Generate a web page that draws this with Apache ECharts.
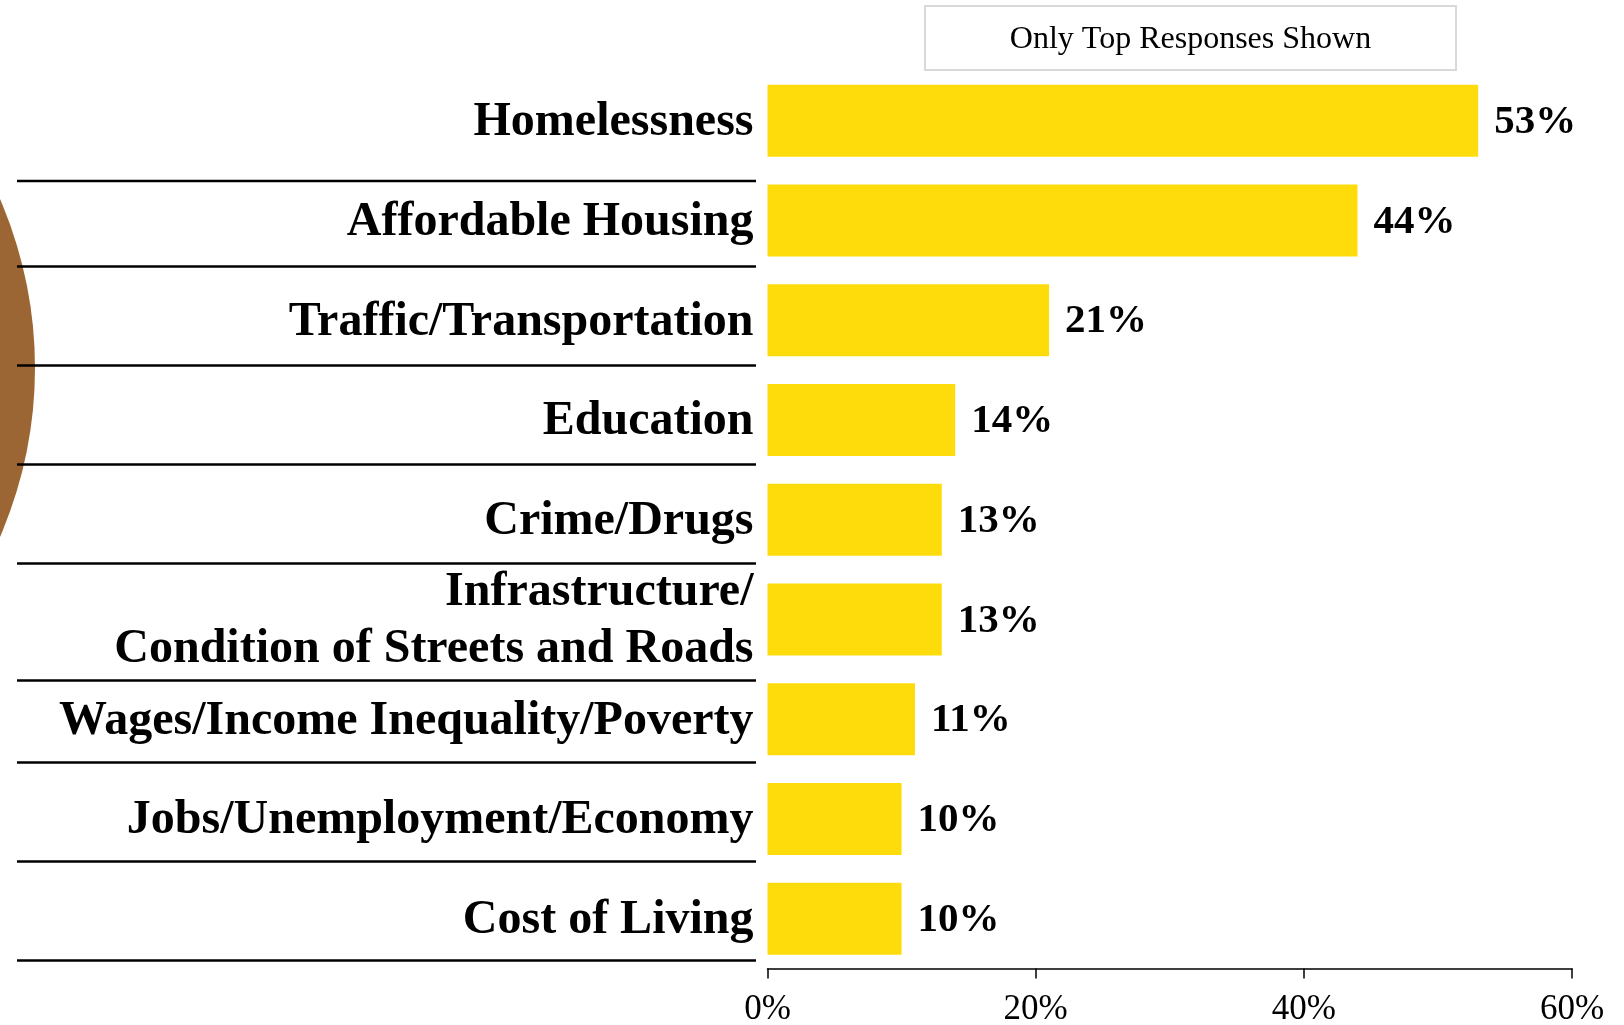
<!DOCTYPE html>
<html>
<head>
<meta charset="utf-8">
<title>Top Responses</title>
<script src="https://cdn.jsdelivr.net/npm/echarts@6/dist/echarts.min.js"></script>
<style>
  html, body { margin: 0; padding: 0; background: #ffffff; }
  #chart { width: 1624px; height: 1025px; }
</style>
</head>
<body>
<div id="chart"></div>
<script>
// Survey issues, top to bottom
const categories = [
  'Homelessness',
  'Affordable Housing',
  'Traffic/Transportation',
  'Education',
  'Crime/Drugs',
  'Infrastructure/\nCondition of Streets and Roads',
  'Wages/Income Inequality/Poverty',
  'Jobs/Unemployment/Economy',
  'Cost of Living'
];
// Share of respondents naming each issue (%)
const shares = [53, 44, 21, 14, 13, 13, 11, 10, 10];
// Axis ticks (%)
const tickValues = [0, 20, 40, 60];
const noteText = 'Only Top Responses Shown';

// Layout constants for the decorative rules between rows
const ruleYs = [181, 266.5, 365.5, 464.5, 563.5, 680.5, 762.5, 861.5, 960.5];
const ruleX0 = 17;
const ruleX1 = 756;

const SERIF = '"Liberation Serif", "Times New Roman", serif';

const chart = echarts.init(document.getElementById('chart'), null, { renderer: 'canvas' });

const graphics = [
  {
    type: 'circle',
    z: 0,
    silent: true,
    shape: { cx: -390, cy: 368, r: 425 },
    style: { fill: '#9C6634' }
  }
];
ruleYs.forEach(function (y) {
  graphics.push({
    type: 'line',
    z: 5,
    silent: true,
    shape: { x1: ruleX0, y1: y, x2: ruleX1, y2: y },
    style: { stroke: '#000000', lineWidth: 2.5 }
  });
});
graphics.push({
  type: 'rect',
  z: 5,
  silent: true,
  shape: { x: 925, y: 6, width: 531, height: 64 },
  style: { fill: '#ffffff', stroke: '#d9d9d9', lineWidth: 2 }
});
graphics.push({
  type: 'text',
  z: 6,
  silent: true,
  x: 1190.5,
  y: 40,
  style: {
    text: noteText,
    fill: '#000000',
    font: '32px ' + SERIF,
    align: 'center',
    verticalAlign: 'middle'
  }
});

chart.setOption({
  animation: false,
  backgroundColor: '#ffffff',
  grid: {
    left: 767.5,
    right: 52,
    top: 71,
    bottom: 56.5,
    containLabel: false,
    outerBoundsMode: 'none'
  },
  xAxis: {
    type: 'value',
    min: tickValues[0],
    max: tickValues[tickValues.length - 1],
    interval: tickValues[1] - tickValues[0],
    splitLine: { show: false },
    axisLine: { show: true, lineStyle: { color: '#000000', width: 1.5 } },
    axisTick: { show: true, length: 10, lineStyle: { color: '#000000', width: 1.5 } },
    axisLabel: {
      formatter: '{value}%',
      color: '#000000',
      fontFamily: SERIF,
      fontSize: 35,
      margin: 24
    }
  },
  yAxis: {
    type: 'category',
    inverse: true,
    data: categories,
    axisLine: { show: false },
    axisTick: { show: false },
    axisLabel: {
      margin: 14,
      align: 'right',
      // each line sits a little low in its box, as in the printed layout
      formatter: function (value) {
        return value.split('\n').map(function (s) { return '{c|' + s + '}'; }).join('\n');
      },
      rich: {
        c: {
          color: '#000000',
          fontFamily: SERIF,
          fontWeight: 'bold',
          fontSize: 48,
          lineHeight: 57,
          padding: [4, 0, 0, 0]
        }
      }
    }
  },
  series: [
    {
      type: 'bar',
      data: shares,
      barWidth: 72,
      itemStyle: { color: '#FEDC0C' },
      label: {
        show: true,
        position: 'right',
        distance: 16,
        formatter: '{v|{c}%}',
        rich: {
          v: {
            color: '#000000',
            fontFamily: SERIF,
            fontWeight: 'bold',
            fontSize: 41,
            padding: [3, 0, 0, 0]
          }
        }
      }
    }
  ],
  graphic: graphics
});
</script>
</body>
</html>
